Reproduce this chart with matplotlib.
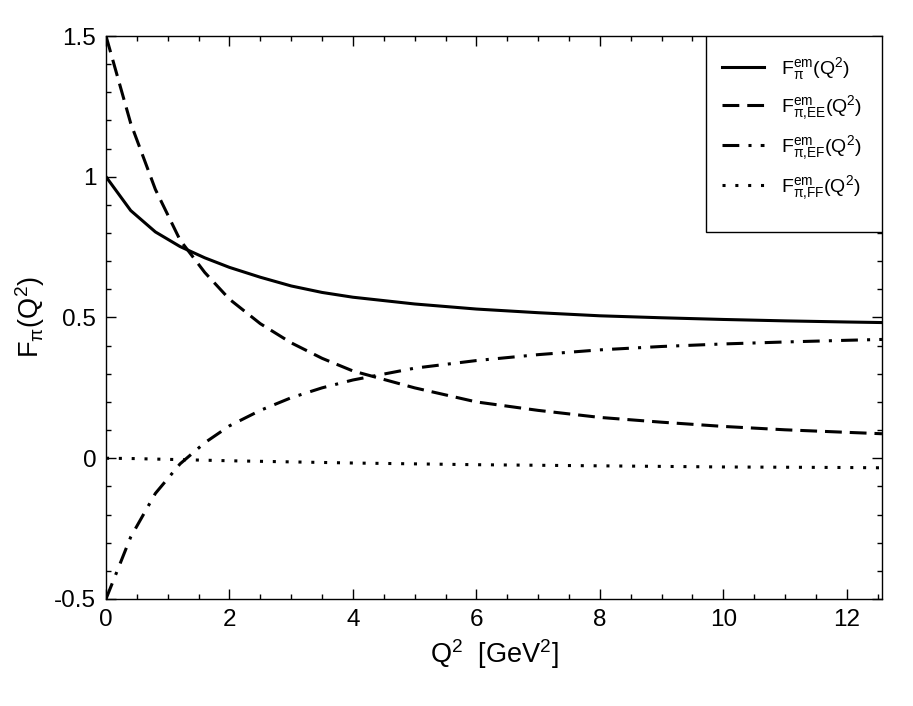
import numpy as np
import matplotlib.pyplot as plt
from matplotlib.patches import Rectangle
from matplotlib.ticker import MultipleLocator, FuncFormatter

plt.rcParams['font.family'] = ['Liberation Sans', 'DejaVu Sans']
plt.rcParams['mathtext.fontset'] = 'custom'
plt.rcParams['mathtext.rm'] = 'Liberation Sans'
plt.rcParams['mathtext.it'] = 'Liberation Sans:italic'
plt.rcParams['axes.unicode_minus'] = False

# Q^2 grid (GeV^2)
q2 = [0.0, 0.4, 0.8, 1.2, 1.6, 2.0, 2.5, 3.0, 3.5, 4.0, 5.0, 6.0, 7.0, 8.0,
      9.0, 10.0, 11.0, 12.0, 12.57]

# form factors
f_pi = [1.0, 0.88, 0.804, 0.752, 0.712, 0.678, 0.643, 0.612, 0.589, 0.572,
        0.548, 0.530, 0.517, 0.506, 0.499, 0.493, 0.488, 0.484, 0.482]
f_ee = [1.5, 1.19, 0.955, 0.775, 0.66, 0.565, 0.478, 0.41, 0.355, 0.31,
        0.25, 0.20, 0.17, 0.145, 0.128, 0.113, 0.101, 0.092, 0.087]
f_ef = [-0.5, -0.28, -0.125, -0.02, 0.055, 0.115, 0.17, 0.215, 0.25, 0.278,
        0.32, 0.347, 0.368, 0.385, 0.397, 0.406, 0.413, 0.419, 0.422]
f_ff = [0.0, -0.001, -0.003, -0.005, -0.007, -0.009, -0.011, -0.013, -0.015,
        -0.017, -0.020, -0.023, -0.025, -0.027, -0.029, -0.031, -0.032,
        -0.033, -0.034]

labels = [r'$\mathregular{F^{em}_{\pi}(Q^2)}$',
          r'$\mathregular{F^{em}_{\pi{,}EE}(Q^2)}$',
          r'$\mathregular{F^{em}_{\pi{,}EF}(Q^2)}$',
          r'$\mathregular{F^{em}_{\pi{,}FF}(Q^2)}$']

fig = plt.figure(figsize=(9.13, 7.06), dpi=100)
ax = fig.add_axes([0.1161, 0.1516, 0.8499, 0.7974])

lw = 2.2
ax.plot(q2, f_pi, color='black', lw=lw, linestyle='-', label=labels[0])
ax.plot(q2, f_ee, color='black', lw=lw, linestyle=(0, (5.5, 2.6)), label=labels[1])
ax.plot(q2, f_ef, color='black', lw=lw, linestyle=(0, (5.5, 3.0, 1.0, 3.0)), label=labels[2])
ax.plot(q2, f_ff, color='black', lw=lw, linestyle=(0, (1.0, 3.2)), label=labels[3])

ax.set_xlim(0, 12.57)
ax.set_ylim(-0.5, 1.5)

ax.xaxis.set_major_locator(MultipleLocator(2))
ax.xaxis.set_minor_locator(MultipleLocator(0.5))
ax.yaxis.set_major_locator(MultipleLocator(0.5))
ax.yaxis.set_minor_locator(MultipleLocator(0.1))
ax.yaxis.set_major_formatter(FuncFormatter(lambda v, p: '%g' % v))

ax.tick_params(which='both', direction='in', top=True, right=True,
               width=1, labelsize=17.5)
ax.tick_params(which='major', length=7, pad=7)
ax.tick_params(which='minor', length=3.6)
for s in ax.spines.values():
    s.set_linewidth(1)

ax.set_xlabel(r'$\mathregular{Q^2\ \ [GeV^2]}$', fontsize=19.5, labelpad=5)
ax.set_ylabel(r'$\mathregular{F_{\pi}(Q^2)}$', fontsize=19.5, labelpad=5)

# legend box sits in the upper right corner, sharing the axes edges
ax.add_patch(Rectangle((0.773, 0.652), 0.227, 0.348, transform=ax.transAxes,
                       facecolor='white', edgecolor='black', lw=1, zorder=4))
leg = ax.legend(loc='upper left', bbox_to_anchor=(0.773, 0.995), borderaxespad=0,
                fontsize=14, frameon=False,
                handlelength=2.15, handletextpad=0.9, labelspacing=0.58,
                borderpad=0.82)
leg.set_zorder(5)

fig.savefig('out.png', dpi=100)
